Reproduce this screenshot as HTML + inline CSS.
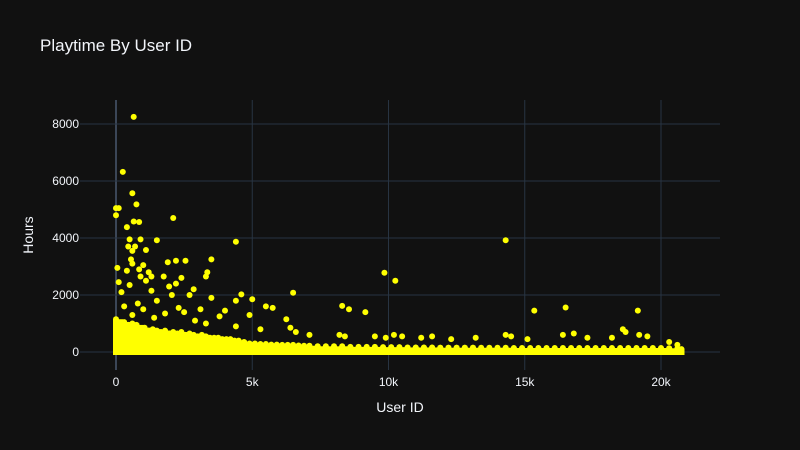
<!DOCTYPE html>
<html><head><meta charset="utf-8">
<style>
html,body{margin:0;padding:0;background:#111111;}
svg{display:block;font-family:"Liberation Sans","DejaVu Sans",sans-serif;}
</style></head>
<body>
<svg id="chart" width="800" height="450" viewBox="0 0 800 450">
<rect width="800" height="450" fill="#111111"/>
<text x="40" y="51" font-size="17" fill="#f2f5fa">Playtime By User ID</text>
<g id="grid"></g>
<g id="ticks"></g>
<g id="pts"></g>
<text x="400" y="412" font-size="14" fill="#f2f5fa" text-anchor="middle">User ID</text>
<text x="33" y="235" font-size="14" fill="#f2f5fa" text-anchor="middle" transform="rotate(-90 33 235)">Hours</text>
</svg>
<script>
const xTicks = [0, 5000, 10000, 15000, 20000];
const xTickLabels = ["0", "5k", "10k", "15k", "20k"];
const yTicks = [0, 2000, 4000, 6000, 8000];
const yTickLabels = ["0", "2000", "4000", "6000", "8000"];
const outlierX = [650,250,600,750,0,100,0,2100,650,850,400,4400,14300,1500,500,900,450,700,600,1100,550,1900,2200,2550,3500,600,1000,50,400,850,1200,3350,9850,10250,900,1300,1750,2400,3300,2200,1100,100,500,1950,2850,6500,4600,4400,5000,200,1300,2050,3500,2700,1500,800,5500,5750,8300,8550,9150,15350,16500,19150,3100,2300,1000,300,4000,4900,6250,3800,2500,1800,600,1400,2900,3300,4400,5300,6400,6600,7100,8200,8400,9500,9900,10200,10500,11200,11600,12300,13200,14300,14500,15100,16400,16800,17300,18200,18600,18700,19200,19500,20300,20600];
const outlierY = [8250,6320,5570,5180,5050,5050,4800,4700,4580,4560,4380,3870,3920,3920,3950,3950,3700,3700,3550,3580,3250,3150,3200,3200,3250,3100,3050,2950,2850,2900,2800,2800,2780,2500,2650,2650,2650,2600,2650,2400,2500,2450,2350,2300,2200,2080,2020,1800,1850,2100,2150,2000,1900,2000,1800,1700,1600,1550,1620,1500,1400,1450,1560,1450,1500,1550,1500,1600,1450,1300,1150,1250,1400,1350,1300,1200,1100,1000,900,800,850,700,600,600,550,550,500,600,550,500,550,450,500,600,550,450,600,650,500,500,800,700,600,550,350,250];
const denseX = [0,150,300,450,600,750,900,1050,1200,1350,1500,1650,1800,1950,2100,2250,2400,2550,2700,2850,3000,3150,3300,3450,3600,3750,3900,4050,4200,4350,4500,4700,4900,5100,5300,5500,5700,5900,6100,6300,6500,6700,6900,7100,7400,7700,8000,8300,8600,8900,9200,9500,9800,10100,10400,10700,11000,11300,11600,11900,12200,12500,12800,13100,13400,13700,14000,14300,14600,14900,15200,15500,15800,16100,16400,16700,17000,17300,17600,17900,18200,18500,18800,19100,19400,19700,20000,20300,20600,20750];
const denseHours = [
[0,300,600,900,1150],[0,300,600,900,1000],[0,300,600,850,1050],[0,300,600,800,950],[0,300,600,850,1000],[0,300,600,800,950],[0,300,600,800],[0,300,600,850],[0,300,600,750],[0,300,600,800],[0,300,600,750],[0,300,550,700],[0,300,550,750],[0,300,550,650],[0,300,550,700],[0,300,500,650],[0,300,500,700],[0,300,500,600],[0,300,500,650],[0,300,500,600],[0,300,450,550],[0,300,450,600],[0,250,450,550],[0,250,450,500],[0,250,400,500],[0,250,400,500],[0,250,400,450],[0,250,400,450],[0,250,350,450],[0,250,350,400],[0,250,350,400],[0,200,300,350],[0,200,300],[0,200,300],[0,200,280],[0,200,280],[0,200,260],[0,200,260],[0,200,250],[0,200,250],[0,200,250],[0,150,230],[0,150,220],[0,150,220],[0,150,200],[0,150,200],[0,150,200],[0,150,200],[0,150,180],[0,150,180],[0,150,180],[0,150,180],[0,150,170],[0,150,170],[0,150,170],[0,150,160],[0,150,160],[0,150,160],[0,150,160],[0,150,150],[0,150,150],[0,150,150],[0,150,150],[0,150,150],[0,120,150],[0,120,150],[0,120,150],[0,120,150],[0,120,140],[0,120,140],[0,120,140],[0,120,140],[0,120,140],[0,120,140],[0,120,140],[0,120,140],[0,120,140],[0,120,140],[0,120,140],[0,120,140],[0,120,140],[0,120,140],[0,120,140],[0,120,140],[0,120,140],[0,120,140],[0,120,140],[0,120,130],[0,100,120],[0,80,100]
];
const NS = "http://www.w3.org/2000/svg";
const L = 80, R = 720, T = 100, B = 370;
function xs(v){ return 116 + v * 0.02725; }
function ys(v){ return 352 - v * 0.0285; }
const grid = document.getElementById('grid');
const ticks = document.getElementById('ticks');
xTicks.forEach((t,i)=>{
  const ln = document.createElementNS(NS,'line');
  ln.setAttribute('x1',xs(t)); ln.setAttribute('x2',xs(t));
  ln.setAttribute('y1',T); ln.setAttribute('y2',B);
  ln.setAttribute('stroke', t===0 ? '#3b4657' : '#283442');
  ln.setAttribute('stroke-width', t===0 ? 2 : 1);
  
  
  grid.appendChild(ln);
  const tx = document.createElementNS(NS,'text');
  tx.setAttribute('x',xs(t)); tx.setAttribute('y',386);
  tx.setAttribute('text-anchor','middle'); tx.setAttribute('font-size','12');
  tx.setAttribute('fill','#f2f5fa');
  tx.textContent = xTickLabels[i];
  
  
  ticks.appendChild(tx);
});
yTicks.forEach((t,i)=>{
  const ln = document.createElementNS(NS,'line');
  ln.setAttribute('x1',L); ln.setAttribute('x2',R);
  ln.setAttribute('y1',ys(t)); ln.setAttribute('y2',ys(t));
  ln.setAttribute('stroke', '#283442');
  ln.setAttribute('stroke-width', 1);
  
  
  grid.appendChild(ln);
  const tx = document.createElementNS(NS,'text');
  tx.setAttribute('x',79); tx.setAttribute('y',ys(t)+4);
  tx.setAttribute('text-anchor','end'); tx.setAttribute('font-size','12');
  tx.setAttribute('fill','#f2f5fa');
  tx.textContent = yTickLabels[i];
  
  
  ticks.appendChild(tx);
});
const pts = document.getElementById('pts');
function dot(x,y,name){
  const c = document.createElementNS(NS,'circle');
  c.setAttribute('cx',xs(x)); c.setAttribute('cy',ys(y)); c.setAttribute('r',3);
  c.setAttribute('fill','#ffff00');
  
  
  pts.appendChild(c);
}
denseX.forEach((x,i)=>{
  const hs = denseHours[i];
  const top = hs[hs.length-1];
  const nx = i < denseX.length-1 ? denseX[i+1] : x;
  const r = document.createElementNS(NS,'rect');
  r.setAttribute('x',xs(x)-3); r.setAttribute('width',xs(nx)-xs(x)+6);
  r.setAttribute('y',ys(top)); r.setAttribute('height',ys(0)-ys(top)+3);
  r.setAttribute('fill','#ffff00');
  
  
  pts.appendChild(r);
  hs.forEach(h=>dot(x,h,'dense-point'));
});
outlierX.forEach((x,i)=>dot(x,outlierY[i],'outlier-point'));
</script>
</body></html>
